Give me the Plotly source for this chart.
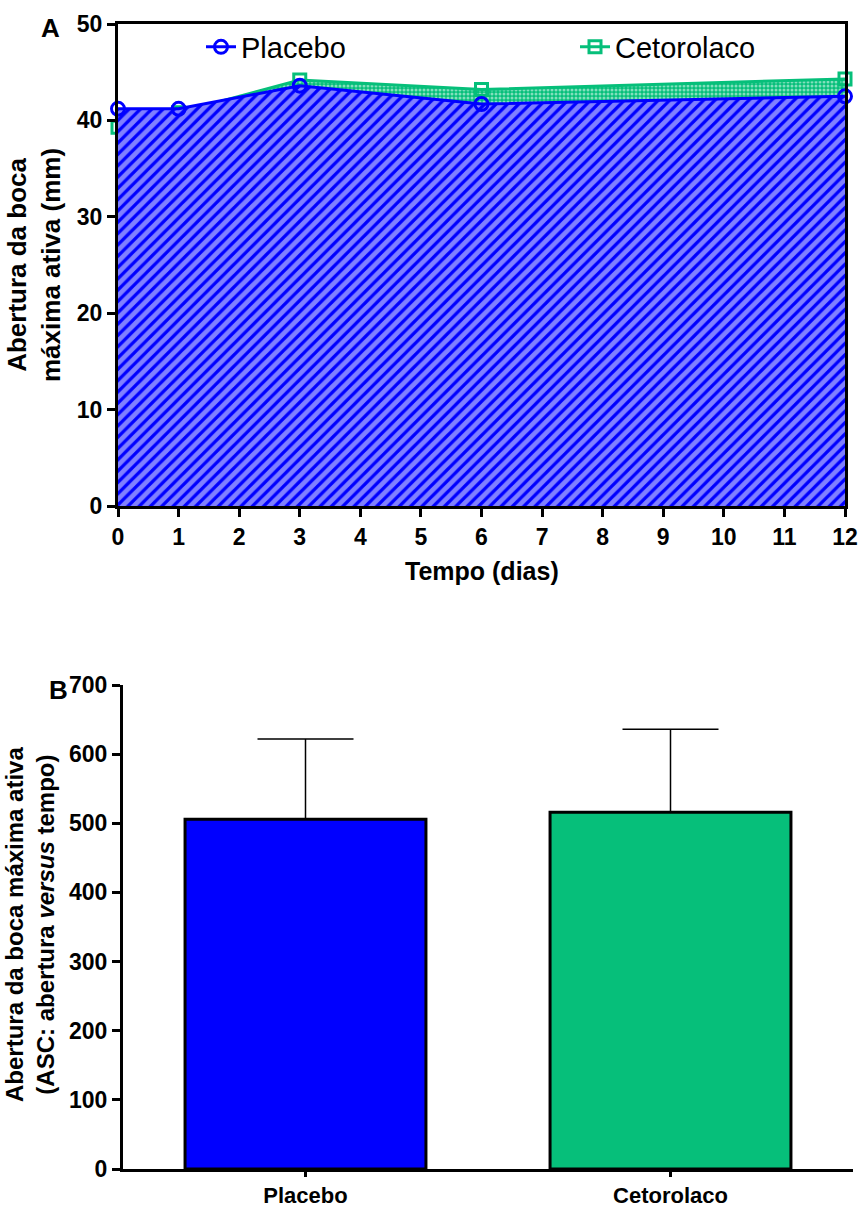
import plotly.graph_objects as go

# ---- Data ----
dias = [0, 1, 3, 6, 12]
placebo_vals = [41.2, 41.2, 43.6, 41.7, 42.5]
cetorolaco_vals = [39.3, 40.8, 44.2, 43.2, 44.3]

grupos = ["Placebo", "Cetorolaco"]
asc_medias = [506, 516]
asc_erro = [116, 120]

x_ticks = list(range(0, 13))
yA_ticks = [0, 10, 20, 30, 40, 50]
yB_ticks = [0, 100, 200, 300, 400, 500, 600, 700]

BLUE = "#0000FF"
GREEN = "#06BF7A"
FONT = "Liberation Sans, Arial, sans-serif"
W, H = 859, 1209

fig = go.Figure()

circle_marker = dict(symbol="circle-open", size=13, color=BLUE, line=dict(width=3, color=BLUE))
square_marker = dict(symbol="square-open", size=12, color=GREEN, line=dict(width=3, color=GREEN))

# Panel A: green (fill + line) first, then blue on top
fig.add_trace(go.Scatter(
    x=dias, y=cetorolaco_vals, mode="lines+markers", fill="tozeroy",
    fillpattern=dict(shape=".", fgcolor="white", bgcolor=GREEN, size=4, solidity=0.45),
    line=dict(color=GREEN, width=3), marker=square_marker,
    cliponaxis=False, showlegend=False, hoverinfo="skip", xaxis="x", yaxis="y"))
fig.add_trace(go.Scatter(
    x=dias, y=placebo_vals, mode="lines+markers", fill="tozeroy",
    fillpattern=dict(shape="/", fgcolor="white", bgcolor=BLUE, size=8, solidity=0.6),
    line=dict(color=BLUE, width=3), marker=circle_marker,
    cliponaxis=False, showlegend=False, hoverinfo="skip", xaxis="x", yaxis="y"))

# Legend-only entries
fig.add_trace(go.Scatter(
    x=[None], y=[None], mode="lines+markers", name="Placebo",
    line=dict(color=BLUE, width=3), marker=circle_marker,
    legend="legend", xaxis="x", yaxis="y"))
fig.add_trace(go.Scatter(
    x=[None], y=[None], mode="lines+markers", name="Cetorolaco",
    line=dict(color=GREEN, width=3), marker=square_marker,
    legend="legend2", xaxis="x", yaxis="y"))

# Panel B bars
fig.add_trace(go.Bar(
    x=grupos, y=asc_medias, width=0.66,
    marker=dict(color=[BLUE, GREEN], line=dict(color="black", width=3)),
    error_y=dict(type="data", symmetric=False, array=asc_erro, arrayminus=[0, 0],
                 color="black", thickness=1.5, width=48),
    showlegend=False, xaxis="x2", yaxis="y2"))

def axis_style(size, ticklen=8):
    return dict(showgrid=False, zeroline=False, showline=True, linecolor="black",
                linewidth=3, ticks="outside", ticklen=ticklen, tickwidth=3,
                tickcolor="black", automargin=False,
                tickfont=dict(family=FONT, size=size, color="black", weight="bold"))

legend_font = dict(family=FONT, size=29, color="black")
fig.update_layout(
    width=W, height=H,
    margin=dict(l=0, r=0, t=0, b=0),
    paper_bgcolor="white", plot_bgcolor="white",
    font=dict(family=FONT, color="black"),
    xaxis=dict(domain=[118 / W, 845 / W], range=[0, 12], tickvals=x_ticks,
               mirror=True, anchor="y", **axis_style(23)),
    yaxis=dict(domain=[1 - 506 / H, 1 - 24 / H], range=[0, 50], tickvals=yA_ticks,
               mirror=True, anchor="x", **axis_style(23)),
    xaxis2=dict(domain=[123 / W, 853 / W], range=[-0.5, 1.5], anchor="y2",
                **axis_style(22, ticklen=5)),
    yaxis2=dict(domain=[1 - 1169 / H, 1 - 685 / H], range=[0, 700], tickvals=yB_ticks,
                anchor="x2", **axis_style(23)),
    legend=dict(x=201 / W, y=1 - 47 / H, xanchor="left", yanchor="middle",
                font=legend_font, bgcolor="rgba(0,0,0,0)"),
    legend2=dict(x=575 / W, y=1 - 47 / H, xanchor="left", yanchor="middle",
                 font=legend_font, bgcolor="rgba(0,0,0,0)"),
)

ann_font = dict(family=FONT, size=25, color="black", weight="bold")
fig.add_annotation(text="Tempo (dias)", x=482 / W, y=1 - 571 / H, xref="paper", yref="paper",
                   xanchor="center", yanchor="middle", showarrow=False, font=ann_font)
fig.add_annotation(text="Abertura da boca<br>máxima ativa (mm)", x=34 / W, y=1 - 265 / H,
                   xref="paper", yref="paper", xanchor="center", yanchor="middle",
                   showarrow=False, textangle=-90,
                   font=dict(family=FONT, size=26, color="black", weight="bold"))
fig.add_annotation(text="Abertura da boca máxima ativa<br>(ASC: abertura <i>versus</i> tempo)",
                   x=30 / W, y=1 - 925 / H, xref="paper", yref="paper", xanchor="center",
                   yanchor="middle", showarrow=False, textangle=-90,
                   font=dict(family=FONT, size=24, color="black", weight="bold"))
fig.add_annotation(text="A", x=50 / W, y=1 - 28 / H, xref="paper", yref="paper",
                   xanchor="center", yanchor="middle", showarrow=False,
                   font=dict(family=FONT, size=26, color="black", weight="bold"))
fig.add_annotation(text="B", x=58 / W, y=1 - 690 / H, xref="paper", yref="paper",
                   xanchor="center", yanchor="middle", showarrow=False,
                   font=dict(family=FONT, size=26, color="black", weight="bold"))

fig.write_html("out.html")
